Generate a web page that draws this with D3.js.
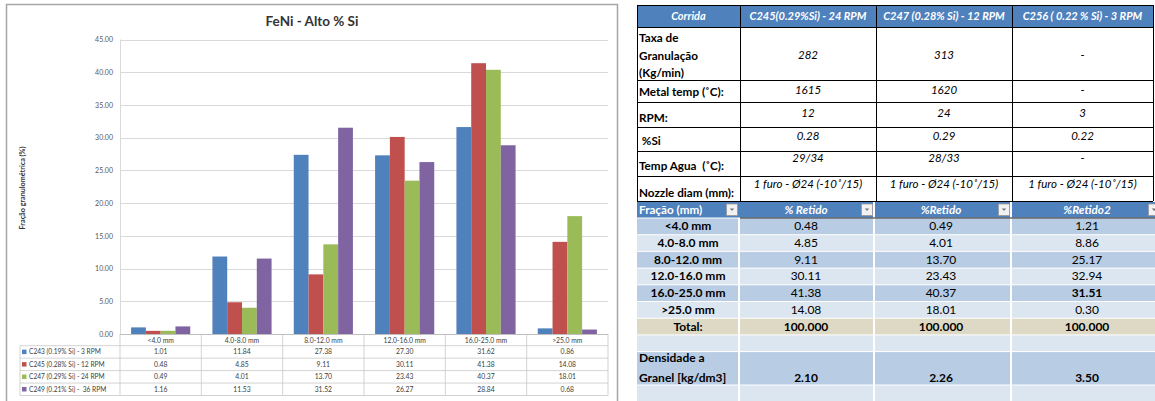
<!DOCTYPE html>
<html>
<head>
<meta charset="utf-8">
<script src="https://cdn.jsdelivr.net/npm/d3@7"></script>
<style>
  html, body { margin: 0; padding: 0; background: #fff; }
  svg { display: block; font-family: Lato, "Open Sans", sans-serif; }
</style>
</head>
<body>
<script>
// ---------------- DATA ----------------
const categories = ["<4.0 mm", "4.0-8.0 mm", "8.0-12.0 mm", "12.0-16.0 mm", "16.0-25.0 mm", ">25.0 mm"];
const seriesNames = ["C243 (0.19% Si) - 3 RPM", "C245 (0.28% Si) - 12 RPM", "C247 (0.29% Si) - 24 RPM", "C249 (0.21% Si) -  36 RPM"];
const c243 = [1.01, 11.84, 27.38, 27.30, 31.62, 0.86];
const c245 = [0.48, 4.85, 9.11, 30.11, 41.38, 14.08];
const c247 = [0.49, 4.01, 13.70, 23.43, 40.37, 18.01];
const c249 = [1.16, 11.53, 31.52, 26.27, 28.84, 0.68];
const yTicks = [0, 5, 10, 15, 20, 25, 30, 35, 40, 45];
const chartTitle = "FeNi - Alto % Si";
const yAxisTitle = "Fração granulométrica  (%)";

const runHeaders = ["Corrida", "C245(0.29%Si) - 24 RPM", "C247 (0.28% Si) - 12 RPM", "C256 ( 0.22 % Si) - 3 RPM"];
const paramLabels = [["Taxa de", "Granulação", "(Kg/min)"], ["Metal temp (˚C):"], ["RPM:"], [" %Si"], ["Temp Agua  (˚C):"], ["Nozzle diam (mm):"]];
const paramC245 = ["282", "1615", "12", "0.28", "29/34", "1 furo - Ø24 (-10˚/15)"];
const paramC247 = ["313", "1620", "24", "0.29", "28/33", "1 furo - Ø24 (-10˚/15)"];
const paramC256 = ["-", "-", "3", "0.22", "-", "1 furo - Ø24 (-10˚/15)"];

const fracHeaders = ["Fração (mm)", "% Retido", "%Retido", "%Retido2"];
const fracLabels = ["<4.0 mm", "4.0-8.0 mm", "8.0-12.0 mm", "12.0-16.0 mm", "16.0-25.0 mm", ">25.0 mm"];
const retido = [0.48, 4.85, 9.11, 30.11, 41.38, 14.08];
const retidoB = [0.49, 4.01, 13.70, 23.43, 40.37, 18.01];
const retido2 = [1.21, 8.86, 25.17, 32.94, 31.51, 0.30];
const totals = [100.000, 100.000, 100.000];
const densityLabel = ["Densidade a", "Granel [kg/dm3]"];
const density = [2.10, 2.26, 3.50];

// ---------------- SETUP ----------------
const W = 1155, H = 401;
const svg = d3.select("body").append("svg").attr("width", W).attr("height", H);
svg.append("rect").attr("width", W).attr("height", H).attr("fill", "#fff");

const colors = ["#4F81BD", "#C0504D", "#9BBB59", "#8064A2"];
const series = [c243, c245, c247, c249];

// ---------------- LEFT CHART ----------------
const L = svg.append("g");
L.append("rect").attr("x", 6.5).attr("y", 4.5).attr("width", 611).attr("height", 410)
  .attr("fill", "#fff").attr("stroke", "#a6a6a6").attr("stroke-width", 1.5);

const plotL = 120, plotR = 608, yTop = 39.5, yBot = 334;
const x0 = d3.scaleBand().domain(categories).range([plotL, plotR]);
const x1 = d3.scaleBand().domain(d3.range(series.length)).range([0, x0.bandwidth()]).paddingInner(0).paddingOuter(0.75);
const y = d3.scaleLinear().domain([0, 45]).range([yBot, yTop]);

L.append("text").attr("x", 312).attr("y", 26).attr("text-anchor", "middle")
  .attr("font-size", 13.5).attr("font-weight", "bold").attr("fill", "#333").text(chartTitle);

// gridlines
L.append("g").selectAll("line").data(yTicks).join("line")
  .attr("x1", plotL).attr("x2", plotR)
  .attr("y1", d => Math.round(y(d)) + 0.5).attr("y2", d => Math.round(y(d)) + 0.5)
  .attr("stroke", "#d9d9d9").attr("stroke-width", 1);
L.append("line").attr("x1", plotL + 0.5).attr("x2", plotL + 0.5).attr("y1", yTop).attr("y2", yBot)
  .attr("stroke", "#d9d9d9");

// y axis labels
const yAxis = d3.axisLeft(y).tickValues(yTicks).tickFormat(d3.format(".2f")).tickSize(0).tickPadding(7);
const yg = L.append("g").attr("transform", `translate(${plotL},0)`).call(yAxis);
yg.select(".domain").remove();
yg.selectAll("text").attr("font-size", 7).attr("fill", "#595959").attr("font-family", "Lato, sans-serif");

L.append("text").attr("transform", "translate(24.5,188) rotate(-90)").attr("text-anchor", "middle")
  .attr("font-size", 7.2).attr("font-weight", "bold").attr("fill", "#333").text(yAxisTitle);

// bars
series.forEach((vals, si) => {
  L.append("g").selectAll("rect").data(vals).join("rect")
    .attr("x", (d, i) => x0(categories[i]) + x1(si))
    .attr("width", x1.bandwidth())
    .attr("y", d => y(d))
    .attr("height", d => yBot - y(d))
    .attr("fill", colors[si]);
});

// data table below chart
const hdrTop = yBot, rowH = 12.45, firstRow = 345.7;
const tblBottom = firstRow + rowH * series.length;
const TL = L.append("g");
TL.append("line").attr("x1", plotL).attr("x2", plotR).attr("y1", yBot + 0.5).attr("y2", yBot + 0.5).attr("stroke", "#bfbfbf");
d3.range(series.length + 1).forEach(i => {
  const yy = firstRow + i * rowH;
  TL.append("line").attr("x1", 20).attr("x2", plotR).attr("y1", yy).attr("y2", yy).attr("stroke", "#c8c8c8").attr("stroke-width", 0.8);
});
const vx = categories.map(c => x0(c)).concat([plotR]);
TL.selectAll("line.v").data(vx).join("line").attr("class", "v")
  .attr("x1", d => d).attr("x2", d => d).attr("y1", hdrTop).attr("y2", tblBottom)
  .attr("stroke", "#c8c8c8").attr("stroke-width", 0.8);
TL.append("line").attr("x1", 20).attr("x2", 20).attr("y1", firstRow).attr("y2", tblBottom).attr("stroke", "#c8c8c8").attr("stroke-width", 0.8);

TL.selectAll("text.cat").data(categories).join("text").attr("class", "cat")
  .attr("x", d => x0(d) + x0.bandwidth() / 2).attr("y", 342.5)
  .attr("text-anchor", "middle").attr("font-size", 6.8).attr("fill", "#404040").text(d => d);

seriesNames.forEach((name, si) => {
  const cy = firstRow + si * rowH + rowH / 2;
  TL.append("rect").attr("x", 22).attr("y", cy - 2.3).attr("width", 4.5).attr("height", 4.5).attr("fill", colors[si]);
  TL.append("text").attr("x", 29).attr("y", cy + 2.4).attr("font-size", 6.6).attr("fill", "#404040")
    .attr("xml:space", "preserve").text(name);
  TL.append("g").selectAll("text").data(series[si]).join("text")
    .attr("x", (d, i) => x0(categories[i]) + x0.bandwidth() / 2).attr("y", cy + 2.4)
    .attr("text-anchor", "middle").attr("font-size", 6.8).attr("fill", "#404040")
    .text(d => d3.format(".2f")(d));
});

// ---------------- RIGHT TABLE (parameters) ----------------
const R = svg.append("g");
const cols = [637, 740, 876, 1012, 1153];
const rowsY = [5, 27, 80, 102, 127, 151, 176, 201];
const blue = "#4F81BD";

R.append("rect").attr("x", cols[0]).attr("y", rowsY[0]).attr("width", cols[4] - cols[0]).attr("height", rowsY[1] - rowsY[0]).attr("fill", blue);

// borders
rowsY.forEach(yy => R.append("line").attr("x1", cols[0]).attr("x2", cols[4]).attr("y1", yy + 0.5).attr("y2", yy + 0.5).attr("stroke", "#000"));
cols.forEach(xx => R.append("line").attr("x1", xx + 0.5).attr("x2", xx + 0.5).attr("y1", rowsY[0]).attr("y2", rowsY[7]).attr("stroke", "#000"));

const colC = d3.range(4).map(i => (cols[i] + cols[i + 1]) / 2);
R.selectAll("text.rh").data(runHeaders).join("text").attr("class", "rh")
  .attr("x", (d, i) => colC[i]).attr("y", 20).attr("text-anchor", "middle")
  .attr("font-size", 11).attr("font-weight", "bold").attr("font-style", "italic").attr("fill", "#fff").text(d => d);

// label baselines (label bottom aligned) and value baselines
const labelBase = [[42, 60, 77], [96], [122], [145], [170], [197]];
const valueBase = [59, 94, 117, 140, 162, 188];
paramLabels.forEach((lines, r) => {
  lines.forEach((t, k) => {
    R.append("text").attr("x", 639).attr("y", labelBase[r][k]).attr("font-size", 11.7)
      .attr("font-weight", "bold").attr("fill", "#000").attr("xml:space", "preserve").text(t);
  });
});
[paramC245, paramC247, paramC256].forEach((vals, c) => {
  R.append("g").selectAll("text").data(vals).join("text")
    .attr("x", colC[c + 1]).attr("y", (d, r) => valueBase[r]).attr("text-anchor", "middle")
    .attr("font-size", 11.5).attr("font-style", "italic").attr("fill", "#000").text(d => d);
});

// ---------------- RIGHT TABLE (fractions) ----------------
const F = svg.append("g");
const fcols = [[637, 738], [740, 873], [875, 1010], [1012, 1170]];
const fHdrTop = 202, fHdrBot = 217.5, fRowH = 16.7;
const light = "#DCE6F1", dark = "#B8CCE4", beige = "#DDD9C4";

fcols.forEach(([a, b]) => F.append("rect").attr("x", a).attr("y", fHdrTop).attr("width", b - a).attr("height", fHdrBot - fHdrTop).attr("fill", blue));
F.append("rect").attr("x", 738).attr("y", fHdrTop).attr("width", 2).attr("height", fHdrBot - fHdrTop).attr("fill", blue);

// body rows
const bodyRows = fracLabels.map((l, i) => ({ top: 218 + i * fRowH, h: fRowH, fill: i % 2 === 0 ? dark : light }));
bodyRows.push({ top: 218 + 6 * fRowH, h: fRowH, fill: beige });
bodyRows.push({ top: 218 + 7 * fRowH, h: fRowH, fill: light });
bodyRows.push({ top: 218 + 8 * fRowH, h: 2 * fRowH, fill: dark });
bodyRows.push({ top: 218 + 10 * fRowH, h: fRowH, fill: light });
bodyRows.forEach(r => {
  fcols.forEach(([a, b]) => F.append("rect").attr("x", a).attr("y", r.top + 0.5).attr("width", b - a).attr("height", r.h - 1).attr("fill", r.fill));
});
F.append("line").attr("x1", 740).attr("x2", 1170).attr("y1", 218).attr("y2", 218).attr("stroke", "#222").attr("stroke-width", 1.2);

// filter buttons
fcols.forEach(([a, b]) => {
  const realB = b === 1170 ? 1160 : b;
  const gx = realB - 11.5;
  F.append("rect").attr("x", gx).attr("y", 204).attr("width", 11).attr("height", 11.5)
    .attr("fill", "#f2f2f2").attr("stroke", "#9a9a9a").attr("stroke-width", 0.8);
  F.append("path").attr("d", `M${gx + 3.3},${208.6} L${gx + 7.7},${208.6} L${gx + 5.5},${211} Z`).attr("fill", "#777");
});

// header texts
F.append("text").attr("x", 639).attr("y", 214).attr("font-size", 11.7).attr("font-weight", "bold").attr("fill", "#fff").text(fracHeaders[0]);
const fc = [688, 806, 941, 1087];
fracHeaders.slice(1).forEach((t, i) => {
  F.append("text").attr("x", fc[i + 1]).attr("y", 214).attr("text-anchor", "middle").attr("font-size", 11.7)
    .attr("font-weight", "bold").attr("font-style", "italic").attr("fill", "#fff").text(t);
});

// labels
F.selectAll("text.fl").data(fracLabels).join("text").attr("class", "fl")
  .attr("x", fc[0]).attr("y", (d, i) => 218 + i * fRowH + fRowH / 2 + 4).attr("text-anchor", "middle")
  .attr("font-size", 12).attr("font-weight", "bold").attr("fill", "#000").text(d => d);

[retido, retidoB, retido2].forEach((vals, c) => {
  F.append("g").selectAll("text").data(vals).join("text")
    .attr("x", fc[c + 1]).attr("y", (d, i) => 218 + i * fRowH + fRowH / 2 + 4).attr("text-anchor", "middle")
    .attr("font-size", 12).attr("fill", "#000")
    .attr("font-weight", (d, i) => (c === 2 && i === 4) ? "bold" : "normal")
    .text(d => d3.format(".2f")(d));
});

const totY = 218 + 6 * fRowH + fRowH / 2 + 4;
F.append("text").attr("x", fc[0]).attr("y", totY).attr("text-anchor", "middle").attr("font-size", 12).attr("font-weight", "bold").text("Total:");
totals.forEach((v, c) => F.append("text").attr("x", fc[c + 1]).attr("y", totY).attr("text-anchor", "middle")
  .attr("font-size", 12).attr("font-weight", "bold").text(d3.format(".3f")(v)));

F.append("text").attr("x", 639).attr("y", 362).attr("font-size", 12).attr("font-weight", "bold").text(densityLabel[0]);
F.append("text").attr("x", 639).attr("y", 382).attr("font-size", 12).attr("font-weight", "bold").text(densityLabel[1]);
density.forEach((v, c) => F.append("text").attr("x", fc[c + 1]).attr("y", 382).attr("text-anchor", "middle")
  .attr("font-size", 12).attr("font-weight", "bold").text(d3.format(".2f")(v)));
</script>
</body>
</html>
